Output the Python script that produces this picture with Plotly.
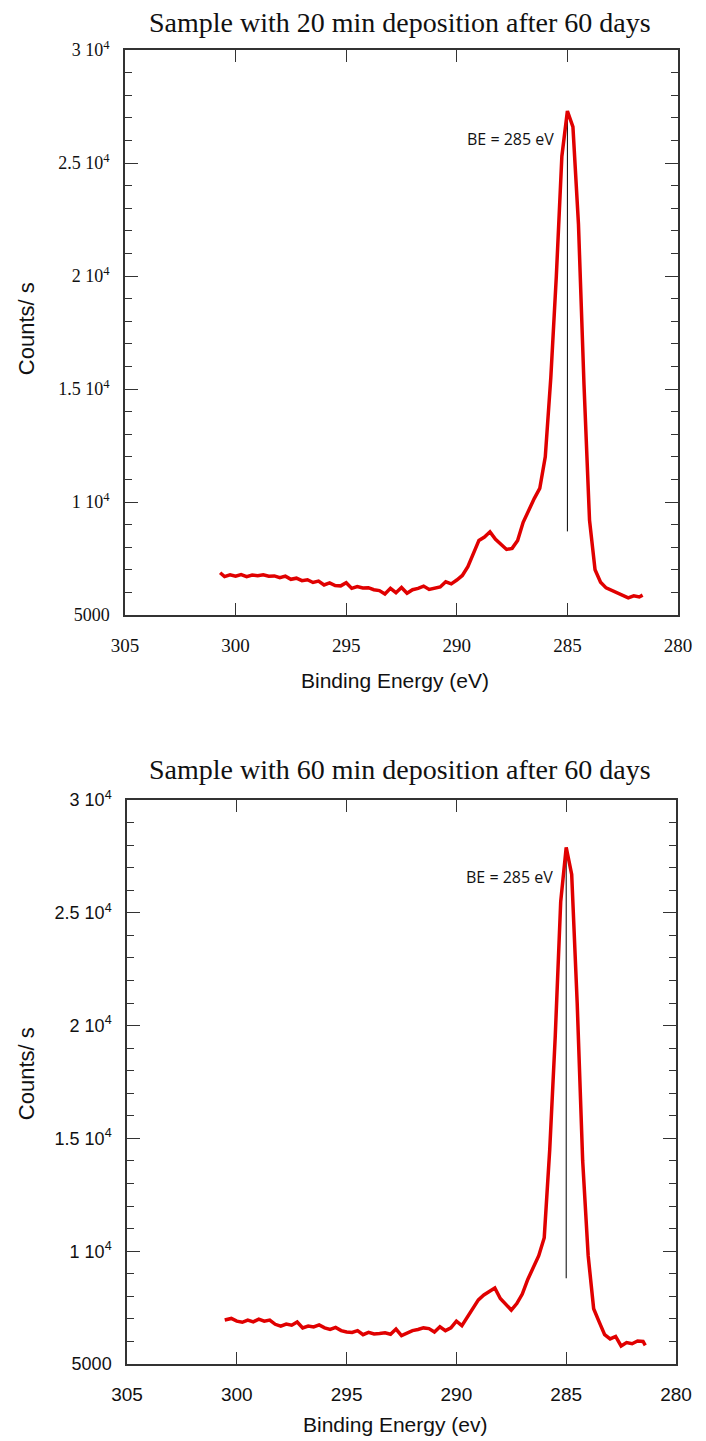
import plotly.graph_objects as go

# C 1s spectrum, 20 min deposition, after 60 days
be_20 = [300.7, 300.5, 300.25, 300.0, 299.75, 299.5, 299.25, 299.0, 298.75, 298.5,
         298.25, 298.0, 297.75, 297.5, 297.25, 297.0, 296.75, 296.5, 296.25, 296.0,
         295.75, 295.5, 295.25, 295.0, 294.75, 294.5, 294.25, 294.0, 293.75, 293.5,
         293.25, 293.0, 292.75, 292.5, 292.25, 292.0, 291.75, 291.5, 291.25, 291.0,
         290.75, 290.5, 290.25, 290.0, 289.75, 289.5, 289.25, 289.0, 288.75, 288.5,
         288.25, 288.0, 287.75, 287.5, 287.25, 287.0, 286.75, 286.5, 286.25, 286.0,
         285.75, 285.5, 285.25, 285.0, 284.75, 284.5, 284.25, 284.0, 283.75, 283.5,
         283.25, 283.0, 282.75, 282.5, 282.25, 282.0, 281.75, 281.6]
counts_20 = [6870, 6700, 6780, 6720, 6790, 6700, 6770, 6740, 6780, 6720,
             6730, 6650, 6720, 6580, 6630, 6520, 6560, 6440, 6500, 6330,
             6420, 6300, 6290, 6430, 6180, 6260, 6200, 6210, 6120, 6080,
             5930, 6180, 5990, 6220, 5960, 6120, 6180, 6280, 6130, 6200,
             6240, 6470, 6380, 6550, 6750, 7140, 7750, 8300, 8450, 8680,
             8350, 8150, 7900, 7950, 8300, 9100, 9650, 10150, 10600, 12000,
             15500, 20000, 25300, 27300, 26600, 22300, 15200, 9200, 7000, 6450,
             6200, 6080, 5960, 5880, 5760, 5850, 5800, 5880]

# C 1s spectrum, 60 min deposition, after 60 days
be_60 = [300.55, 300.25, 300.0, 299.75, 299.5, 299.25, 299.0, 298.75, 298.5, 298.25,
         298.0, 297.75, 297.5, 297.25, 297.0, 296.75, 296.5, 296.25, 296.0, 295.75,
         295.5, 295.25, 295.0, 294.75, 294.5, 294.25, 294.0, 293.75, 293.5, 293.25,
         293.0, 292.75, 292.5, 292.25, 292.0, 291.75, 291.5, 291.25, 291.0, 290.75,
         290.5, 290.25, 290.0, 289.75, 289.5, 289.25, 289.0, 288.75, 288.5, 288.25,
         288.0, 287.75, 287.5, 287.25, 287.0, 286.75, 286.5, 286.25, 286.0, 285.75,
         285.5, 285.25, 285.0, 284.75, 284.5, 284.25, 284.0, 283.75, 283.5, 283.25,
         283.0, 282.75, 282.5, 282.25, 282.0, 281.75, 281.5, 281.4]
counts_60 = [6950, 7020, 6900, 6850, 6950, 6870, 6990, 6900, 6950, 6760,
             6680, 6770, 6720, 6860, 6600, 6680, 6640, 6730, 6600, 6530,
             6620, 6480, 6420, 6400, 6480, 6300, 6400, 6330, 6350, 6380,
             6320, 6550, 6260, 6380, 6480, 6530, 6600, 6570, 6420, 6650,
             6480, 6600, 6900, 6700, 7100, 7450, 7840, 8060, 8200, 8370,
             7900, 7650, 7390, 7680, 8100, 8750, 9250, 9800, 10600, 14500,
             19500, 25500, 27900, 26700, 21000, 14000, 9800, 7450, 6870, 6300,
             6110, 6220, 5800, 5950, 5900, 6020, 6000, 5830]

# Reference marker at the C-C binding energy
peak_be = 285
marker_20 = [8700, 27250]
marker_60 = [8800, 27800]

y_tickvals = [5000, 10000, 15000, 20000, 25000, 30000]
y_ticktext = ["5000", "1 10<sup>4</sup>", "1.5 10<sup>4</sup>", "2 10<sup>4</sup>",
              "2.5 10<sup>4</sup>", "3 10<sup>4</sup>"]
x_tickvals = [305, 300, 295, 290, 285, 280]

titles = ["Sample with 20 min deposition after 60 days",
          "Sample with 60 min deposition after 60 days"]
x_titles = ["Binding Energy (eV)", "Binding Energy (ev)"]
y_title = "Counts/ s"
be_label = "BE = 285 eV"

RED = "#e00000"
AX = "#333333"
INK = "#111111"
SERIF = "Liberation Serif, Times New Roman, serif"
SANS = "Liberation Sans, Arial, sans-serif"

fig = go.Figure()

fig.add_trace(go.Scatter(x=[peak_be, peak_be], y=marker_20, mode="lines",
                         line=dict(color="black", width=1), xaxis="x", yaxis="y",
                         showlegend=False, hoverinfo="skip"))
fig.add_trace(go.Scatter(x=be_20, y=counts_20, mode="lines",
                         line=dict(color=RED, width=3.5), xaxis="x", yaxis="y",
                         showlegend=False))
fig.add_trace(go.Scatter(x=[peak_be, peak_be], y=marker_60, mode="lines",
                         line=dict(color="black", width=1), xaxis="x2", yaxis="y2",
                         showlegend=False, hoverinfo="skip"))
fig.add_trace(go.Scatter(x=be_60, y=counts_60, mode="lines",
                         line=dict(color=RED, width=3.5), xaxis="x2", yaxis="y2",
                         showlegend=False))


def x_axis(domain, anchor, family, size):
    return dict(domain=domain, anchor=anchor, range=[305, 280],
                tickmode="array", tickvals=x_tickvals,
                ticks="inside", ticklen=12, tickwidth=1.2, tickcolor=AX,
                showline=True, linecolor=AX, linewidth=1.5, mirror="allticks",
                showgrid=False, zeroline=False, ticklabelstandoff=12,
                tickfont=dict(family=family, size=size, color=INK))


def y_axis(domain, anchor, family, size):
    return dict(domain=domain, anchor=anchor, range=[5000, 30000],
                tickmode="array", tickvals=y_tickvals, ticktext=y_ticktext,
                ticks="inside", ticklen=13, tickwidth=1.2, tickcolor=AX,
                minor=dict(dtick=1000, ticks="inside", ticklen=7, tickwidth=1,
                           tickcolor=AX, showgrid=False),
                showline=True, linecolor=AX, linewidth=1.5, mirror="allticks",
                showgrid=False, zeroline=False, ticklabelstandoff=10,
                tickfont=dict(family=family, size=size, color=INK))


fig.update_layout(
    width=706, height=1441,
    margin=dict(l=125, r=19, t=50, b=77),
    paper_bgcolor="white", plot_bgcolor="white",
    xaxis=x_axis([0, 1], "y", SERIF, 19),
    yaxis=y_axis([0.570, 1], "x", SERIF, 18),
    xaxis2=x_axis([0.0036, 0.9964], "y2", SANS, 19),
    yaxis2=y_axis([0, 0.4292], "x2", SANS, 18),
)


def note(text, x, y, size, family, angle=0, xref="paper", yref="paper",
         xanchor="center"):
    return dict(text=text, x=x, y=y, xref=xref, yref=yref, xanchor=xanchor,
                yanchor="middle", textangle=angle, showarrow=False,
                font=dict(family=family, size=size, color=INK))


annotations = [
    note(titles[0], 0.4964, 1.0213, 28, SERIF),
    note(titles[1], 0.4964, 0.4528, 28, SERIF),
    note(x_titles[0], 0.489, 0.5205, 21, SANS),
    note(x_titles[1], 0.489, -0.0457, 21, SANS),
    note(y_title, -0.178, 0.7880, 22, SANS, angle=-90),
    note(y_title, -0.178, 0.2210, 22, SANS, angle=-90),
    note(be_label, 285.5, 26060, 16, "Open Sans, sans-serif",
         xref="x", yref="y", xanchor="right"),
    note(be_label, 285.5, 26590, 16, "Open Sans, sans-serif",
         xref="x2", yref="y2", xanchor="right"),
]
fig.update_layout(annotations=annotations)

fig.write_html("out.html")
